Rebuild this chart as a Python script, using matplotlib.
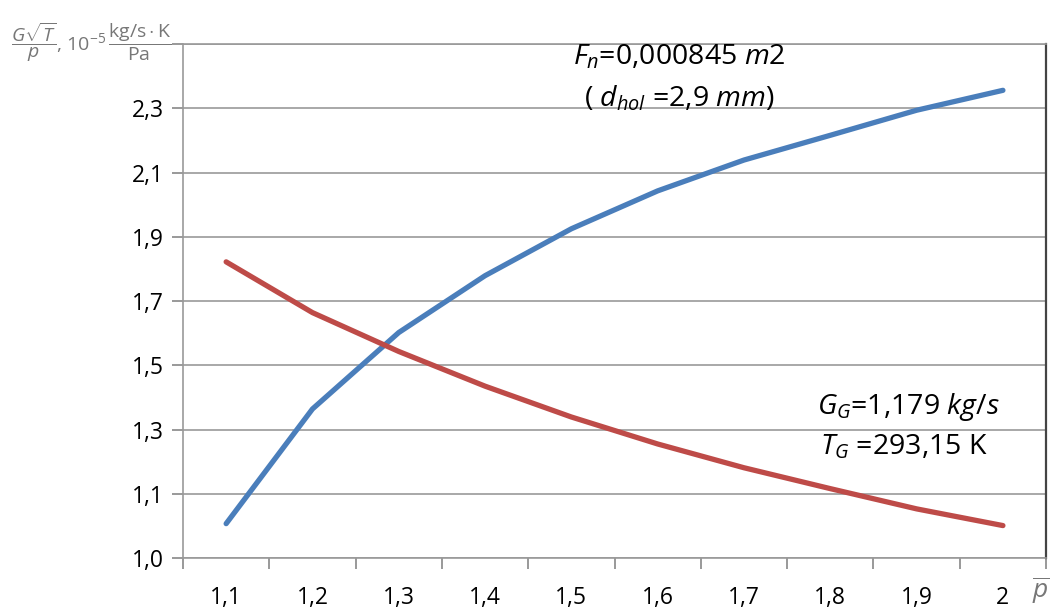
import matplotlib.pyplot as plt

plt.rcParams['font.family'] = ['Open Sans', 'DejaVu Sans']
plt.rcParams['mathtext.fontset'] = 'custom'
plt.rcParams['mathtext.rm'] = 'Open Sans'
plt.rcParams['mathtext.it'] = 'Open Sans:italic'

# pressure ratio categories
p_labels = ['1,1', '1,2', '1,3', '1,4', '1,5', '1,6', '1,7', '1,8', '1,9', '2']
# flow parameter
blue_vals = [1.007, 1.364, 1.602, 1.779, 1.925, 2.043, 2.139, 2.216, 2.294, 2.356]
red_vals = [1.822, 1.664, 1.543, 1.435, 1.339, 1.255, 1.181, 1.116, 1.053, 1.001]
y_ticks = [0.9, 1.1, 1.3, 1.5, 1.7, 1.9, 2.1, 2.3]
y_labels = ['1,0', '1,1', '1,3', '1,5', '1,7', '1,9', '2,1', '2,3']

fig = plt.figure(figsize=(10.59, 6.12), dpi=100)
ax = fig.add_axes([0.1728, 0.0882, 0.815, 0.8398])

x = list(range(len(p_labels)))
ax.plot(x, blue_vals, color='#4a7ebb', lw=3.8, solid_capstyle='round', zorder=3)
ax.plot(x, red_vals, color='#be4b48', lw=3.8, solid_capstyle='round', zorder=3)

ax.set_xlim(-0.5, len(p_labels) - 0.5)
ax.set_ylim(0.9, 2.5)

# category axis: labels centred, tick marks between
ax.set_xticks(x)
ax.set_xticklabels(p_labels, fontsize=16.5)
ax.set_xticks([i - 0.5 for i in range(len(p_labels) + 1)], minor=True)
ax.tick_params(axis='x', which='major', length=0, pad=20)
ax.tick_params(axis='x', which='minor', length=8, color='#888888', width=1.2)

ax.set_yticks(y_ticks + [2.5])
ax.set_yticklabels(y_labels + [''], fontsize=16.5)
ax.tick_params(axis='y', length=8, color='#888888', width=1.2, pad=6)

ax.grid(axis='y', color='#999999', lw=1.2)
for s in ['left', 'bottom', 'top']:
    ax.spines[s].set_color('#999999')
    ax.spines[s].set_linewidth(1.2)
ax.spines['right'].set_color('#444444')
ax.spines['right'].set_linewidth(1.6)

# axis titles
fig.text(0.01, 0.93, r'$\dfrac{G\sqrt{T}}{p}$, $10^{-5}\,\dfrac{\mathrm{kg/s\cdot K}}{\mathrm{Pa}}$',
         fontsize=14, color='#777777', ha='left', va='center')
fig.text(0.983, 0.035, r'$\overline{p}$', fontsize=19, color='#777777', ha='center', va='center')

# annotations
ax.text(5.25, 2.46, r'$F_n$=0,000845 $m2$', fontsize=20.5, ha='center', va='center')
ax.text(5.25, 2.33, r'( $d_{hol}$ =2,9 $mm$)', fontsize=20.5, ha='center', va='center')
ax.text(7.9, 1.37, r'$G_G$=1,179 $kg/s$', fontsize=20.5, ha='center', va='center')
ax.text(7.85, 1.245, r'$T_G$ =293,15 K', fontsize=20.5, ha='center', va='center')

fig.savefig('out.png', dpi=100)
